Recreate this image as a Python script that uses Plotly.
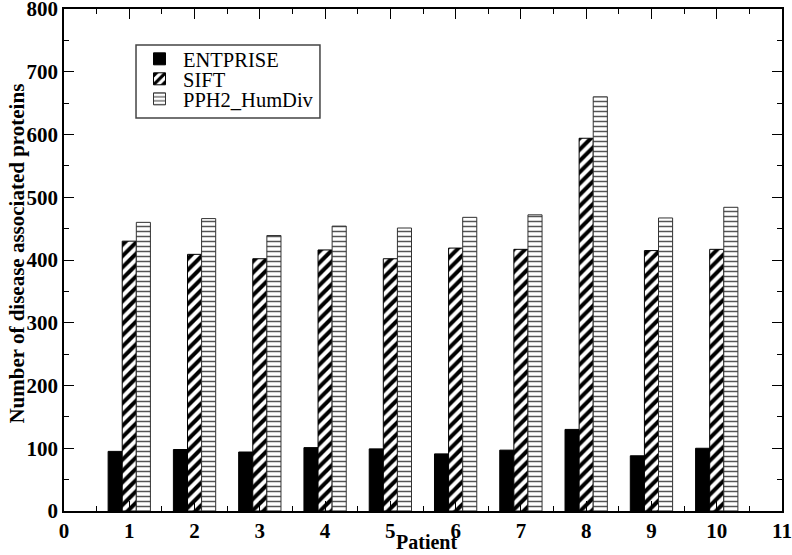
import plotly.graph_objects as go

patients = [1, 2, 3, 4, 5, 6, 7, 8, 9, 10]
entprise = [95, 98, 94, 101, 99, 91, 97, 130, 88, 100]
sift = [430, 409, 402, 416, 402, 419, 417, 594, 415, 417]
pph2 = [460, 466, 439, 454, 451, 468, 472, 660, 467, 484]

font_family = "Liberation Serif, Times New Roman, serif"

fig = go.Figure()
fig.add_trace(go.Bar(
    x=patients, y=entprise, name="ENTPRISE", legend="legend",
    marker=dict(color="black", line=dict(color="black", width=1)),
))
fig.add_trace(go.Bar(
    x=patients, y=sift, name="SIFT", legend="legend2",
    marker=dict(color="white", line=dict(color="black", width=1),
                pattern=dict(shape="/", fgcolor="black", bgcolor="white",
                             size=8, solidity=0.5, fillmode="replace")),
))
fig.add_trace(go.Bar(
    x=patients, y=pph2, name="PPH2_HumDiv", legend="legend3",
    marker=dict(color="white", line=dict(color="#333333", width=1),
                pattern=dict(shape="-", fgcolor="#555555", bgcolor="white",
                             size=5, solidity=0.3, fillmode="replace")),
))

axis_common = dict(
    showline=True, linecolor="black", linewidth=1.5, mirror="allticks",
    ticks="inside", ticklen=10, tickwidth=1.2, tickcolor="black",
    showgrid=False, zeroline=False, automargin=False, ticklabeloverflow="allow",
    tickfont=dict(family=font_family, size=21, color="black", weight="bold"),
)

legend_common = dict(
    xanchor="left", yanchor="middle", bgcolor="rgba(0,0,0,0)", borderwidth=0,
    font=dict(family=font_family, size=20.5, color="black"), itemwidth=37,
)

fig.update_layout(
    width=792, height=555,
    margin=dict(l=64, r=10, t=9, b=44),
    paper_bgcolor="white", plot_bgcolor="white",
    barmode="group", bargap=0.352, bargroupgap=0,
    font=dict(family=font_family, color="black"),
    xaxis=dict(
        range=[0, 11], tick0=0, dtick=1,
        minor=dict(ticks="inside", ticklen=5, dtick=0.5, tick0=0, tickcolor="black", tickwidth=1),
        **axis_common,
    ),
    yaxis=dict(
        range=[0, 800], tick0=0, dtick=100,
        minor=dict(ticks="inside", ticklen=5, dtick=50, tick0=0, tickcolor="black", tickwidth=1),
        **axis_common,
    ),
    legend=dict(x=0.1003, y=0.9004, **legend_common),
    legend2=dict(x=0.1003, y=0.8606, **legend_common),
    legend3=dict(x=0.1003, y=0.8207, **legend_common),
    showlegend=True,
    shapes=[
        dict(type="rect", xref="paper", yref="paper", x0=0.1003, x1=0.3565, y0=0.7829, y1=0.9283,
             line=dict(color="#444444", width=1.5), fillcolor="white", layer="above"),
    ],
    annotations=[
        dict(text="<b>Patient</b>", xref="paper", yref="paper", x=0.505, y=-0.0876,
             xanchor="center", yanchor="bottom", showarrow=False,
             font=dict(family=font_family, size=20, color="black")),
        dict(text="<b>Number of disease associated proteins</b>", xref="paper", yref="paper",
             x=-0.066, y=0.512, xanchor="center", yanchor="middle", textangle=-90, showarrow=False,
             font=dict(family=font_family, size=21, color="black")),
    ],
)

fig.write_html("out.html", config={"displayModeBar": False},
               post_script="document.body.style.margin='0';")
